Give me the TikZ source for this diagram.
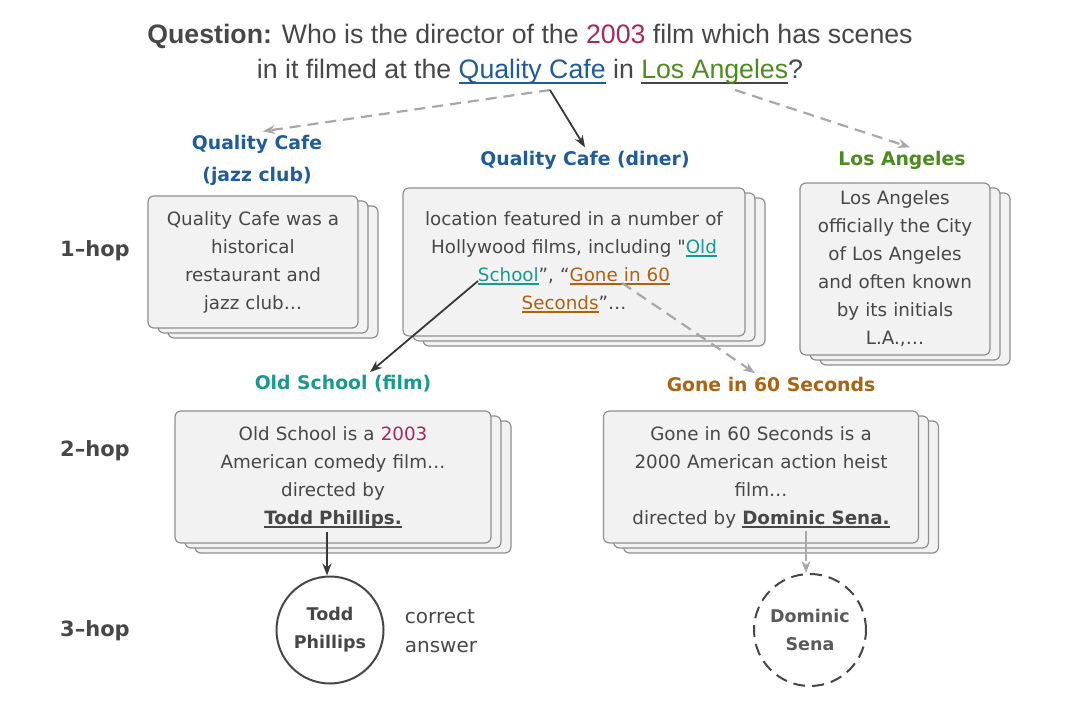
\documentclass[tikz,border=0pt]{standalone}
\usepackage{fontspec}
\setmainfont{DejaVu Sans}
\newfontfamily\qfont{Liberation Sans}
\newfontfamily\plainquote{DejaVu Sans}
\usetikzlibrary{arrows.meta,shadows}

\definecolor{qblue}{HTML}{1E5C9B}
\definecolor{lagreen}{HTML}{4C8C1E}
\definecolor{yrmag}{HTML}{A8285E}
\definecolor{osteal}{HTML}{1A9990}
\definecolor{gonebrown}{HTML}{AD6210}
\definecolor{txtgray}{HTML}{474747}
\definecolor{boxgray}{HTML}{8F8F8F}
\definecolor{boxfill}{HTML}{F2F2F2}
\definecolor{dashgray}{HTML}{A8A8A8}
\definecolor{darkarrow}{HTML}{383838}

\newcommand{\ulbar}[1]{\leavevmode\setbox0\hbox{#1}\rlap{\rule[-0.2em]{\wd0}{0.08em}}\box0}

\tikzset{
  qtext/.style={font=\qfont\fontsize{26.7}{35}\selectfont, align=center, text=txtgray},
  title/.style={font=\bfseries\fontsize{18.8}{32}\selectfont, align=center},
  hop/.style={font=\bfseries\fontsize{21}{26}\selectfont, text=txtgray},
  doc/.style={draw=boxgray, fill=boxfill, line width=1.2pt, rounded corners=6pt,
    inner sep=0pt, align=center, text=txtgray, font=\fontsize{18.3}{28}\selectfont,
    double copy shadow={shadow xshift=10pt, shadow yshift=-5pt}},
  answer/.style={circle, line width=2pt, inner sep=0pt, align=center,
    font=\bfseries\fontsize{17.5}{28}\selectfont},
  solidarrow/.style={-{Stealth[length=12pt,width=9pt]}, draw=darkarrow, line width=1.8pt},
  dasharrow/.style={-{Stealth[length=12pt,width=9pt]}, draw=dashgray, line width=2.2pt,
    dash pattern=on 11pt off 7pt}
}

\begin{document}
\begin{tikzpicture}[x=1pt,y=1pt]
\useasboundingbox (0,0) rectangle (1080,-714);

\node[qtext] (question) at (530,-54.5) {\textbf{Question:} Who is the director of the \textcolor{yrmag}{2003} film which has scenes\\in it filmed at the \textcolor{qblue}{\ulbar{Quality Cafe}} in \ulbar{\textcolor{lagreen}{Los Angeles}}?};

\foreach \y/\label in {251/1, 451/2, 631/3}
  \node[hop] (hop\label) at (95,-\y) {\label–hop};

\node[title, text=qblue] (jazz) at (257,-160) {Quality Cafe\\(jazz club)};
\node[title, text=qblue] (diner) at (585,-160) {Quality Cafe (diner)};
\node[title, text=lagreen] (la) at (902,-160) {Los Angeles};
\node[title, text=osteal] (ostitle) at (343,-384) {Old School (film)};
\node[title, text=gonebrown] (gonetitle) at (771,-384) {Gone in 60 Seconds};

\node[doc, text width=210pt, minimum height=132pt] (jazzbox) at (253,-262)
  {Quality Cafe was a\\historical\\restaurant and\\jazz club…};
\node[doc, text width=342pt, minimum height=148pt] (dinerbox) at (574,-262)
  {location featured in a number of\\Hollywood films, including {\plainquote"}\textcolor{osteal}{\ulbar{Old}}\\\textcolor{osteal}{\ulbar{School}}”, “\textcolor{gonebrown}{\ulbar{Gone in 60}}\\\textcolor{gonebrown}{\ulbar{Seconds}}”…};
\node[doc, text width=190pt, minimum height=172pt] (labox) at (895,-269)
  {Los Angeles\\officially the City\\of Los Angeles\\and often known\\by its initials\\L.A.,…};
\node[doc, text width=316pt, minimum height=132pt] (osbox) at (333,-477)
  {Old School is a \textcolor{yrmag}{2003}\\American comedy film…\\directed by\\\ulbar{\textbf{Todd Phillips.}}};
\node[doc, text width=315pt, minimum height=132pt] (gonebox) at (761,-477)
  {Gone in 60 Seconds is a\\2000 American action heist\\film…\\directed by \ulbar{\textbf{Dominic Sena.}}};

\node[answer, draw=txtgray, text=txtgray, minimum size=107pt] (todd) at (330,-630) {Todd\\Phillips};
\node[answer, draw=txtgray, text=txtgray!90, minimum size=112pt, dash pattern=on 12pt off 7pt] (dominic) at (810,-630) {Dominic\\Sena};
\node[font=\fontsize{20}{29}\selectfont, text=txtgray, align=left] (correct) at (441,-631) {correct\\answer};

\coordinate (qcword) at (550,-90);
\coordinate (laword) at (735,-90);
\coordinate (schoolword) at (478,-281);
\coordinate (goneword) at (622,-283);
\coordinate (toddword) at (327,-532);
\coordinate (senaword) at (806,-531);

\draw[dasharrow] (qcword) -- ([xshift=6pt]jazz.north);
\draw[solidarrow] (qcword) -- (diner.north);
\draw[dasharrow] (laword) -- ([xshift=8pt]la.north);
\draw[solidarrow] (schoolword) -- ([xshift=27pt]ostitle.north);
\draw[dasharrow] (goneword) -- ([xshift=-16pt]gonetitle.north);
\draw[solidarrow] (toddword) -- (toddword |- todd.north);
\draw[dasharrow, dash pattern=on 30pt off 4pt] (senaword) -- (senaword |- dominic.north);
\end{tikzpicture}
\end{document}
